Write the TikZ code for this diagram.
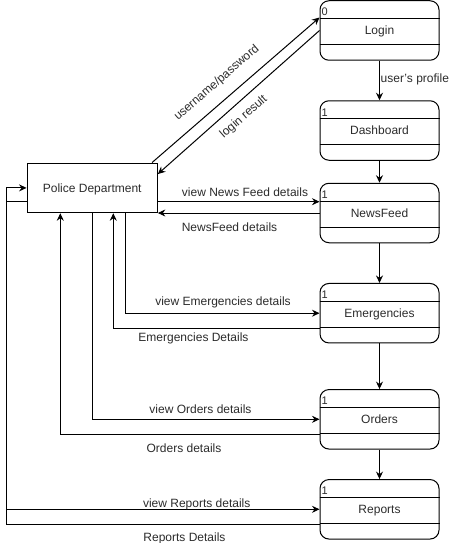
\documentclass[tikz,border=0pt]{standalone}
\usepackage{fontspec}
\setmainfont{Liberation Sans}
\usetikzlibrary{arrows.meta}
\usetikzlibrary{positioning}
\definecolor{txtgray}{HTML}{2B2B2B}
\tikzset{>={Stealth[length=7.5pt,width=7pt,inset=2.5pt]}}
\tikzset{flow/.style={line width=1pt, ->}}
\tikzset{proc/.style={draw, line width=1pt, rounded corners=9pt, minimum width=119pt, minimum height=59.5pt, inner sep=0, font=\fontsize{12}{14}\selectfont, text=txtgray, text height=9pt, text depth=0.4pt}}
\tikzset{ext/.style={draw, line width=1pt, minimum width=130.3pt, minimum height=49.7pt, inner sep=0, font=\fontsize{12}{14}\selectfont, text=txtgray, text height=9pt, text depth=0.4pt}}
\tikzset{lbl/.style={font=\fontsize{12}{14}\selectfont, text=txtgray, inner sep=0, text height=9pt, text depth=0.4pt}}
\tikzset{num/.style={font=\fontsize{11}{13}\selectfont, text=txtgray, inner sep=0, anchor=base west}}

\begin{document}
\begin{tikzpicture}[x=1pt, y=-1pt]
  \useasboundingbox (0,0) rectangle (460,543);

  \node [ext] (police) at (92.2, 187.9) {Police Department};

  \foreach \nd/\idx/\yc/\txt in {login/0/30.5/Login, dashboard/1/130.5/Dashboard, newsfeed/1/213/NewsFeed, emergencies/1/313.2/Emergencies, orders/1/419.3/Orders, reports/1/509.3/Reports} {
    \node [proc] (\nd) at (379.5, \yc) {\txt};
    \draw [line width=1pt] ([yshift=12pt]\nd.west) -- ([yshift=12pt]\nd.east);
    \draw [line width=1pt] ([yshift=-14pt]\nd.west) -- ([yshift=-14pt]\nd.east);
    \node [num] (\nd-idx) at (321.3, {\yc-14.5}) {\idx};
  }

  \draw [flow] (login) -- (dashboard);
  \draw [flow] (dashboard) -- (newsfeed);
  \draw [flow] (newsfeed) -- (emergencies);
  \draw [flow] (emergencies) -- (orders);
  \draw [flow] (orders) -- (reports);
  \node [lbl, anchor=west] (profile) at (380.5, 77.7) {user's profile};

  \draw [flow] ([xshift=-5.8pt]police.north east) -- ([yshift=13pt]login.west);
  \draw [flow] (login.west) -- ([yshift=-11.5pt]police.north east);
  \node [lbl, rotate=41] (userpass) at (216, 82) {username/password};
  \node [lbl, rotate=41] (loginres) at (243, 116) {login result};

  \draw [flow] ([yshift=-13.8pt]police.east) -- ([yshift=-13.8pt]police.east -| newsfeed.west);
  \draw [flow] (newsfeed.west) -- (newsfeed.west -| police.east);
  \node [lbl] (viewnews) at (245, 192.5) {view News Feed details};
  \node [lbl] (newsdet) at (229.5, 226.7) {NewsFeed details};

  \draw [flow] ([xshift=33.5pt]police.south) |- (emergencies.west);
  \draw [flow] ([yshift=-15pt]emergencies.west) -| ([xshift=21.1pt]police.south);
  \node [lbl] (viewemer) at (223, 300.7) {view Emergencies details};
  \node [lbl] (emerdet) at (193.5, 337.3) {Emergencies Details};

  \draw [flow] (police.south) |- (orders.west);
  \draw [flow] ([yshift=-15pt]orders.west) -| ([xshift=-31.9pt]police.south);
  \node [lbl] (vieworders) at (200.5, 409) {view Orders details};
  \node [lbl] (ordersdet) at (184, 448.3) {Orders details};

  \draw [flow] ([yshift=-13.8pt]police.west) -- ++(-19.7, 0) |- (reports.west);
  \draw [flow] ([yshift=-15pt]reports.west) -| ([xshift=-19.7pt]police.west) -- (police.west);
  \node [lbl] (viewreports) at (196.7, 502.7) {view Reports details};
  \node [lbl] (reportsdet) at (184.5, 537.3) {Reports Details};
\end{tikzpicture}
\end{document}
